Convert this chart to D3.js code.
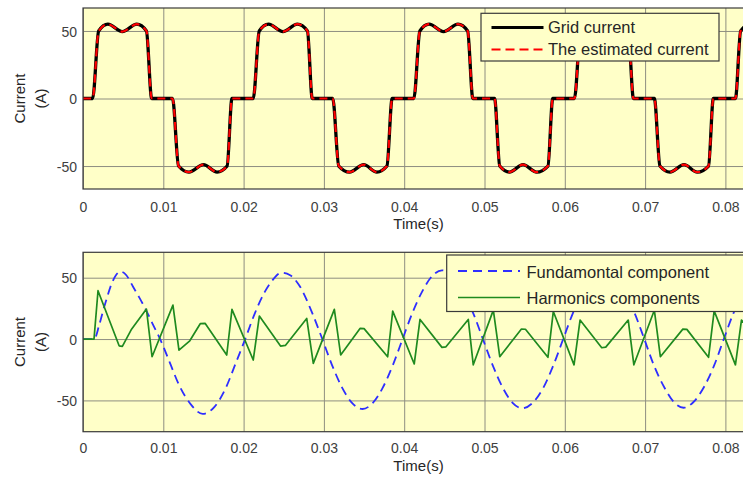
<!DOCTYPE html>
<html>
<head>
<meta charset="utf-8">
<script src="https://cdn.jsdelivr.net/npm/d3@7/dist/d3.min.js"></script>
<style>
  html, body { margin: 0; padding: 0; background: #fff; }
  svg { display: block; font-family: "Liberation Sans", Arial, sans-serif; }
</style>
</head>
<body>
<svg id="chart" width="743" height="477"></svg>
<script>
// time is kept in ms, tick labels are written in seconds
const timeTicks = [0, 10, 20, 30, 40, 50, 60, 70, 80];
const timeTickLabels = ['0', '0.01', '0.02', '0.03', '0.04', '0.05', '0.06', '0.07', '0.08'];
const currentTicks = [-50, 0, 50];
const currentTickLabels = ['-50', '0', '50'];

// top panel: grid current
const gridTime = [
  0, 1.2, 1.95, 3.1, 4.9, 6.7, 7.9, 8.55,
  11.15, 11.9, 13.2, 15.0, 16.7, 17.95, 18.55,
  21.2, 21.95, 23.1, 24.9, 26.7, 27.95, 28.55,
  31.1, 31.85, 33.2, 34.95, 36.6, 37.85, 38.5,
  41.2, 41.95, 43.1, 44.9, 46.7, 47.9, 48.55,
  51.25, 51.9, 53.1, 54.8, 56.5, 57.9, 58.5,
  61.2, 61.95, 63.1, 64.9, 66.7, 67.9, 68.55,
  71.15, 71.85, 73.1, 74.85, 76.5, 77.9, 78.5,
  81.25, 81.9, 83.1, 84.9
];
const gridCurrent = [
  0, 0, 50, 55, 49.5, 55, 50, 0,
  0, -50, -54.5, -49, -54.5, -50, 0,
  0, 50, 55, 49.5, 55, 50, 0,
  0, -50, -54.5, -49, -54.5, -50, 0,
  0, 50, 55, 49.5, 55, 50, 0,
  0, -50, -54.5, -49, -54.5, -50, 0,
  0, 50, 55, 49.5, 55, 50, 0,
  0, -50, -54.5, -49, -54.5, -50, 0,
  0, 50, 55, 49.5
];
// the estimate lies right on top of the grid current in the picture
const estimatedCurrent = gridCurrent.slice();

// bottom panel: fundamental component
const fundTime = [
  0, 1.4, 2.0, 2.5, 3.0, 3.5, 4.1, 4.7, 5.4, 6.2, 7.0, 7.9, 8.7, 9.6,
  10.8, 12.0, 13.4, 14.9, 16.4, 17.7, 19.0, 20.2,
  21.4, 22.6, 23.6, 24.7, 25.8, 27.0, 28.5, 29.8,
  31.0, 32.3, 33.5, 34.8, 36.1, 37.3, 38.6, 39.8,
  41.0, 42.3, 43.5, 44.7, 46.0, 47.3, 48.6, 49.8,
  51.0, 52.3, 53.5, 54.7, 56.0, 57.3, 58.6, 59.8,
  61.0, 62.3, 63.5, 64.8, 66.1, 67.4, 68.7, 69.9,
  71.1, 72.4, 73.6, 74.8, 76.0, 77.3, 78.6, 79.8,
  81.0, 82.3, 83.5
];
const fundValue = [
  0, 0, 11, 23, 34, 44, 52, 55, 52, 43, 34, 23, 12, 0,
  -19, -38, -53, -61, -55, -41, -20, 0,
  21, 38, 48, 54, 52, 43, 22, 0,
  -21, -40, -52, -57, -52, -40, -21, 0,
  21, 39.5, 51.5, 56, 51.5, 39.5, 21, 0,
  -21, -40, -52, -56.5, -52, -40, -21, 0,
  21, 39, 51, 55, 51, 39, 21, 0,
  -21.5, -39.5, -51.5, -56, -51.5, -39.5, -21.5, 0,
  21, 39, 51
];

// bottom panel: harmonics components
const harmTime = [
  0, 1.37, 1.87, 4.5, 4.9, 6.0, 7.9, 8.6, 11.2, 11.95, 13.3, 14.6, 15.2, 17.9, 18.55,
  21.2, 21.96, 24.6, 25.2, 27.86, 28.68, 31.3, 32.09, 34.5, 35.0, 37.94, 38.57,
  41.25, 41.97, 44.7, 45.2, 47.98, 48.6, 51.1, 51.9, 54.6, 55.1, 57.9, 58.57,
  61.15, 61.9, 64.6, 65.1, 67.9, 68.6, 71.15, 71.9, 74.7, 75.2, 77.9, 78.6,
  81.25, 82.0, 84.7
];
const harmValue = [
  0, 0, 39.4, -5.5, -6, 7.5, 24.4, -14.4, 27.7, -9, -1.4, 12.5, 12.8, -13, 24.2,
  -17.1, 18.7, -5.7, -5.2, 16.8, -19.8, 24.2, -13, 8.7, 8.5, -14.4, 22.8,
  -20.3, 16, -6.8, -6.3, 16, -21, 23.6, -14.4, 8.2, 8, -14.9, 22.5,
  -21, 15.5, -7.1, -6.6, 15.5, -21, 23.5, -14.4, 8.1, 7.9, -14.9, 23,
  -21, 15.5, -6.5
];

const svg = d3.select('#chart');
const plotLeft = 83;
const pxPerMs = 8.03;
// the axes run a little past the right edge of the window
const x = d3.scaleLinear().domain([0, 85]).range([plotLeft, plotLeft + 85 * pxPerMs]);
const plotRight = x(85);

const panels = [
  {
    id: 'top', top: 8, bottom: 189, yDomain: [-67, 67],
    series: [
      { t: gridTime, v: gridCurrent, color: '#000', width: 3.3, dash: null, curve: d3.curveMonotoneX },
      { t: gridTime, v: estimatedCurrent, color: '#ff0000', width: 2.2, dash: '8,5', curve: d3.curveMonotoneX }
    ],
    legend: {
      x: 481, y: 13.3, w: 238, h: 47.7, lineX0: 491.5, lineX1: 543.5, textX: 548,
      items: [
        { label: 'Grid current', color: '#000', width: 3, dash: null, y: 27.5, base: 33 },
        { label: 'The estimated current', color: '#ff0000', width: 2.2, dash: '9,5', y: 49.5, base: 55 }
      ]
    },
    labelBase: 212, titleBase: 229
  },
  {
    id: 'bottom', top: 252.3, bottom: 431.7, yDomain: [-75.5, 70.7],
    series: [
      { t: fundTime, v: fundValue, color: '#2e2eff', width: 1.8, dash: '9,5.5', curve: d3.curveMonotoneX },
      { t: harmTime, v: harmValue, color: '#1f8a1f', width: 1.7, dash: null, curve: d3.curveLinear }
    ],
    legend: {
      x: 446.7, y: 255, w: 320, h: 56.5, lineX0: 458, lineX1: 520, textX: 526.5,
      items: [
        { label: 'Fundamontal component', color: '#2e2eff', width: 1.8, dash: '9,6', y: 271, base: 277.5 },
        { label: 'Harmonics components', color: '#1f8a1f', width: 1.7, dash: null, y: 297.5, base: 303.5 }
      ]
    },
    labelBase: 453.5, titleBase: 471
  }
];

panels.forEach(p => {
  const y = d3.scaleLinear().domain(p.yDomain).range([p.bottom, p.top]);
  const h = p.bottom - p.top;
  const g = svg.append('g').attr('class', 'panel-' + p.id);

  g.append('rect')
    .attr('x', plotLeft).attr('y', p.top)
    .attr('width', plotRight - plotLeft).attr('height', h)
    .attr('fill', '#ffffc8');

  // grid lines
  const gx = g.append('g')
    .attr('transform', `translate(0,${p.bottom})`)
    .call(d3.axisBottom(x).tickValues(timeTicks).tickSize(-h).tickFormat(''));
  const gy = g.append('g')
    .attr('transform', `translate(${plotLeft},0)`)
    .call(d3.axisLeft(y).tickValues(currentTicks).tickSize(-(plotRight - plotLeft)).tickFormat(''));
  [gx, gy].forEach(a => {
    a.select('.domain').remove();
    a.selectAll('line').attr('stroke', '#8e8e80').attr('stroke-width', 1);
  });

  // clipped data lines
  const clipId = 'clip-' + p.id;
  g.append('clipPath').attr('id', clipId)
    .append('rect')
    .attr('x', plotLeft).attr('y', p.top)
    .attr('width', plotRight - plotLeft).attr('height', h);

  const lines = g.append('g').attr('clip-path', `url(#${clipId})`);
  p.series.forEach(s => {
    const pts = s.t.map((t, i) => [t, s.v[i]]);
    lines.append('path')
      .datum(pts)
      .attr('fill', 'none')
      .attr('stroke', s.color)
      .attr('stroke-width', s.width)
      .attr('stroke-dasharray', s.dash)
      .attr('stroke-linejoin', 'round')
      .attr('d', d3.line().x(d => x(d[0])).y(d => y(d[1])).curve(s.curve));
  });

  // axes box
  g.append('rect')
    .attr('x', plotLeft).attr('y', p.top)
    .attr('width', plotRight - plotLeft).attr('height', h)
    .attr('fill', 'none').attr('stroke', '#3a3a3a').attr('stroke-width', 1.2);

  // tick labels
  const ax = g.append('g')
    .attr('transform', `translate(0,${p.bottom})`)
    .call(d3.axisBottom(x).tickValues(timeTicks).tickSize(0).tickPadding(0)
      .tickFormat((d, i) => timeTickLabels[i]));
  ax.select('.domain').remove();
  ax.selectAll('text')
    .attr('dy', null)
    .attr('y', p.labelBase - p.bottom)
    .attr('font-size', 14)
    .attr('font-family', '"Liberation Sans", Arial, sans-serif')
    .attr('fill', '#404040');

  const ay = g.append('g')
    .attr('transform', `translate(${plotLeft},0)`)
    .call(d3.axisLeft(y).tickValues(currentTicks).tickSize(0).tickPadding(6)
      .tickFormat((d, i) => currentTickLabels[i]));
  ay.select('.domain').remove();
  ay.selectAll('text')
    .attr('dy', '0.36em')
    .attr('font-size', 14)
    .attr('font-family', '"Liberation Sans", Arial, sans-serif')
    .attr('fill', '#404040');

  // axis titles
  g.append('text')
    .attr('x', 418.5).attr('y', p.titleBase)
    .attr('text-anchor', 'middle')
    .attr('font-size', 15)
    .attr('fill', '#262626')
    .text('Time(s)');

  const cy = (p.top + p.bottom) / 2;
  const yl = g.append('text')
    .attr('transform', `translate(0,${cy}) rotate(-90)`)
    .attr('text-anchor', 'middle')
    .attr('font-size', 15)
    .attr('fill', '#262626');
  yl.append('tspan').attr('x', 0).attr('y', 25).text('Current');
  yl.append('tspan').attr('x', 0).attr('y', 45.5).text('(A)');

  // legend
  const L = p.legend;
  const leg = g.append('g').attr('class', 'legend');
  leg.append('rect')
    .attr('x', L.x).attr('y', L.y).attr('width', L.w).attr('height', L.h)
    .attr('fill', '#ffffc8').attr('stroke', '#3a3a3a').attr('stroke-width', 1.2);
  leg.selectAll('g.legend-item')
    .data(L.items)
    .join('g')
    .attr('class', 'legend-item')
    .each(function(d) {
      const item = d3.select(this);
      item.append('line')
        .attr('x1', L.lineX0).attr('x2', L.lineX1)
        .attr('y1', d.y).attr('y2', d.y)
        .attr('stroke', d.color)
        .attr('stroke-width', d.width)
        .attr('stroke-dasharray', d.dash);
      item.append('text')
        .attr('x', L.textX).attr('y', d.base)
        .attr('font-size', 16.5)
        .attr('fill', '#262626')
        .text(d.label);
    });
});
</script>
</body>
</html>
